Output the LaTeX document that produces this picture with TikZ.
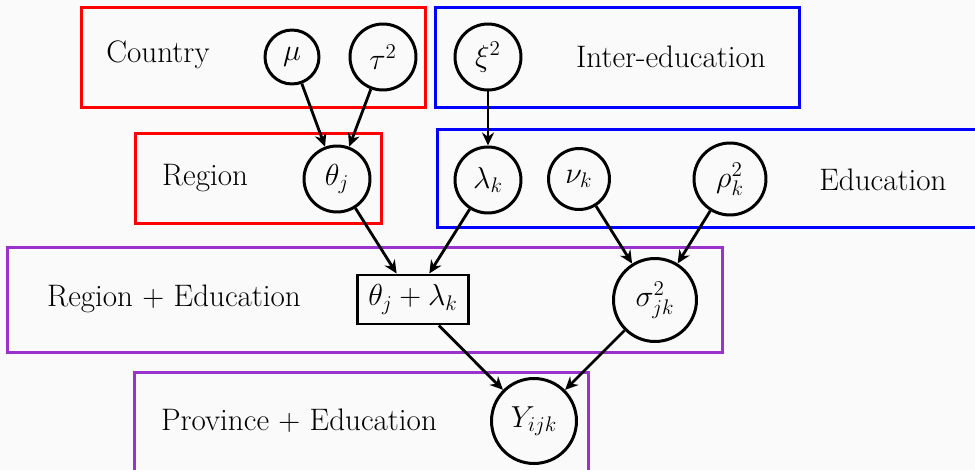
\documentclass[tikz,border=0pt]{standalone}
\usetikzlibrary{arrows.meta}
\definecolor{platepurple}{rgb}{0.6,0.2,0.8}
\begin{document}
\begin{tikzpicture}[x=0.02cm, y=-0.02cm,
    every node/.style={font=\fontsize{17.7}{21}\selectfont},
    vertex/.style={circle, draw, line width=1.7pt, inner sep=0pt, minimum size=1.32cm},
    plate/.style={rectangle, draw, line width=1.7pt, inner sep=0pt},
    edge/.style={-{Stealth[length=2.6mm, width=2.4mm]}, line width=1.6pt}]
        \useasboundingbox (0,0) rectangle (975,470);
        \clip (0,0) rectangle (975,470);
        \fill[black!2] (0,0) rectangle (975,470);

        % plates
        \node[plate, draw=red, minimum width=6.9cm, minimum height=2.02cm] (country) at (253.5,57.5) {};
        \node[plate, draw=red, minimum width=4.94cm, minimum height=1.82cm] (region) at (258.5,178.5) {};
        \node[plate, draw=blue, minimum width=7.3cm, minimum height=2.02cm] (inter) at (617.5,57.5) {};
        \node[plate, draw=blue, minimum width=11.06cm, minimum height=1.98cm] (edu) at (713.5,178.5) {};
        \node[plate, draw=platepurple, minimum width=14.32cm, minimum height=2.12cm] (regedu) at (365,300) {};
        \node[plate, draw=platepurple, minimum width=9.1cm, minimum height=2.16cm] (provedu) at (361.5,426) {};

        \node (countrytxt) at (158,55) {Country};
        \node (regiontxt) at (205,178) {Region};
        \node (intertxt) at (671,57) {Inter-education};
        \node (edutxt) at (883,180) {Education};
        \node (regedutxt) at (174,299) {Region $+$ Education};
        \node (provtxt) at (299,421) {Province $+$ Education};

        % variables
        \node[vertex, minimum size=1.08cm] (mu) at (292,57) {$\mu$};
        \node[vertex] (tau) at (383,57) {$\tau^2$};
        \node[vertex] (theta) at (337,179) {$\theta_j$};
        \node[vertex] (xi) at (488,57) {$\xi^2$};
        \node[vertex] (lambda) at (488,180) {$\lambda_k$};
        \node[vertex, minimum size=1.22cm] (nu) at (579,179) {$\nu_k$};
        \node[vertex, minimum size=1.44cm] (rho) at (730,179) {$\rho_k^2$};
        \node[plate, minimum width=2.24cm, minimum height=0.98cm] (sum) at (413,299.5) {$\theta_j + \lambda_k$};
        \node[vertex, minimum size=1.66cm] (sigma) at (655,300) {$\sigma_{jk}^2$};
        \node[vertex, minimum size=1.7cm] (y) at (534,421) {$Y_{ijk}$};

        \draw[edge] (mu) -- (theta);
        \draw[edge] (tau) -- (theta);
        \draw[edge] (xi) -- (lambda);
        \draw[edge] (theta) -- (sum);
        \draw[edge] (lambda) -- (sum);
        \draw[edge] (nu) -- (sigma);
        \draw[edge] (rho) -- (sigma);
        \draw[edge] (sum) -- (y);
        \draw[edge] (sigma) -- (y);
\end{tikzpicture}
\end{document}
